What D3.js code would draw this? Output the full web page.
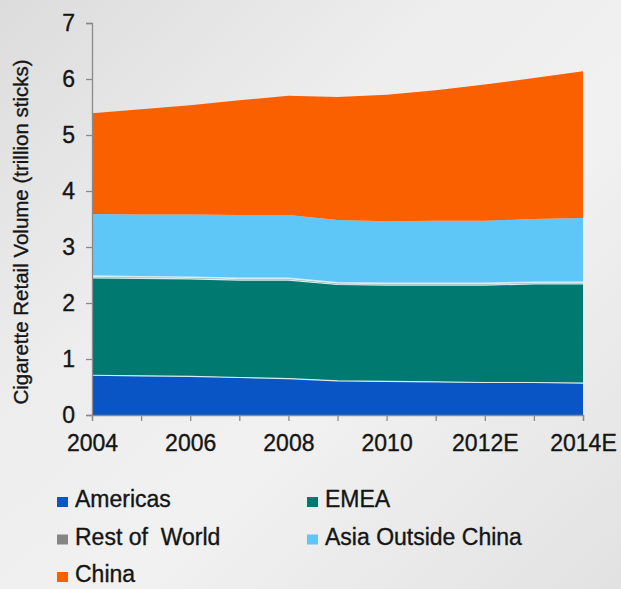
<!DOCTYPE html>
<html>
<head>
<meta charset="utf-8">
<script src="https://cdn.jsdelivr.net/npm/d3@7"></script>
<style>
  html, body { margin: 0; padding: 0; }
  body { width: 621px; height: 589px; overflow: hidden; }
  text { font-family: "Liberation Sans", Arial, sans-serif; fill: #151515; stroke: #151515; stroke-width: 0.35px; }
</style>
</head>
<body>
<svg id="chart" width="621" height="589"></svg>
<script>
// Years along the x axis (E = estimate)
const years = [2004, 2005, 2006, 2007, 2008, 2009, 2010, 2011, 2012, 2013, 2014];
const yearLabels = ["2004", "2006", "2008", "2010", "2012E", "2014E"];
const labelYears = [2004, 2006, 2008, 2010, 2012, 2014];

// Regional cigarette retail volume, trillion sticks
const americas = [0.71, 0.70, 0.69, 0.67, 0.65, 0.61, 0.60, 0.59, 0.58, 0.58, 0.57];
const emea     = [1.74, 1.74, 1.74, 1.74, 1.76, 1.72, 1.72, 1.73, 1.74, 1.76, 1.77];
const restOfWorld = [0.03, 0.03, 0.03, 0.03, 0.03, 0.03, 0.03, 0.03, 0.03, 0.03, 0.03];
const asiaOutsideChina = [1.11, 1.11, 1.12, 1.13, 1.13, 1.12, 1.11, 1.12, 1.12, 1.13, 1.15];
const china    = [1.80, 1.88, 1.95, 2.05, 2.13, 2.20, 2.26, 2.33, 2.43, 2.52, 2.62];

const seriesNames = ["Americas", "EMEA", "Rest of  World", "Asia Outside China", "China"];
const seriesColors = ["#0a55c6", "#007a70", "#858585", "#5ec7f8", "#fa6000"];
const yTicks = [0, 1, 2, 3, 4, 5, 6, 7];

const seriesValues = [americas, emea, restOfWorld, asiaOutsideChina, china];
const rows = years.map((yr, i) => {
  const r = { year: yr };
  seriesNames.forEach((n, k) => { r[n] = seriesValues[k][i]; });
  return r;
});

const svg = d3.select("#chart");

// Soft grey backdrop
const defs = svg.append("defs");
const grad = defs.append("linearGradient")
  .attr("id", "bg").attr("x1", "0").attr("y1", "0").attr("x2", "1").attr("y2", "1");
grad.append("stop").attr("offset", "0").attr("stop-color", "#dcdcdc");
grad.append("stop").attr("offset", "0.35").attr("stop-color", "#ededed");
grad.append("stop").attr("offset", "0.6").attr("stop-color", "#f1f1f1");
grad.append("stop").attr("offset", "1").attr("stop-color", "#e2e2e2");
svg.append("rect").attr("width", 621).attr("height", 589).attr("fill", "url(#bg)");

const margin = { left: 92, top: 23, right: 38, bottom: 174 };
const width = 621 - margin.left - margin.right;
const height = 589 - margin.top - margin.bottom;

const g = svg.append("g").attr("transform", `translate(${margin.left},${margin.top})`);

const x = d3.scaleLinear().domain([2004, 2014]).range([0, width]);
const y = d3.scaleLinear().domain([0, 7]).range([height, 0]);

const stack = d3.stack().keys(seriesNames);
const layers = stack(rows);

const area = d3.area()
  .x(d => x(d.data.year))
  .y0(d => y(d[0]))
  .y1(d => y(d[1]));

g.selectAll("path.layer")
  .data(layers)
  .join("path")
  .attr("class", "layer")
  .attr("d", area)
  .attr("fill", (d, i) => seriesColors[i]);

// Light seams along the layer tops
const seam = d3.line().x(d => x(d.data.year)).y(d => y(d[1]));
g.selectAll("path.seam")
  .data(layers.slice(0, 3))
  .join("path")
  .attr("class", "seam")
  .attr("d", seam)
  .attr("fill", "none")
  .attr("stroke", "#d6eef2")
  .attr("stroke-width", (d, i) => i === 2 ? 1.6 : 1.2);

// Axes
const axisColor = "#8a8a8a";
const yAxis = g.append("g")
  .call(d3.axisLeft(y).tickValues(yTicks).tickSize(6).tickPadding(11).tickFormat(d3.format("d")));
const xAxis = g.append("g")
  .attr("transform", `translate(0,${height})`)
  .call(d3.axisBottom(x).tickValues(years).tickSize(6).tickPadding(14)
    .tickFormat(d => { const k = labelYears.indexOf(d); return k >= 0 ? yearLabels[k] : ""; }));

[yAxis, xAxis].forEach(a => {
  a.select(".domain").attr("stroke", axisColor).attr("stroke-width", 1.3);
  a.selectAll(".tick line").attr("stroke", axisColor).attr("stroke-width", 1.3);
  a.selectAll(".tick text").style("font-size", "23px").attr("fill", "#151515")
    .style("font-family", "'Liberation Sans', Arial, sans-serif");
});

// Y axis title
svg.append("text")
  .attr("transform", `translate(28,232) rotate(-90)`)
  .attr("text-anchor", "middle")
  .style("font-size", "20.5px")
  .text("Cigarette Retail Volume (trillion sticks)");

// Legend, two columns
const legendItems = seriesNames.map((n, i) => ({
  name: n, color: seriesColors[i],
  col: i % 2, row: Math.floor(i / 2)
}));
const legend = svg.append("g");
const li = legend.selectAll("g")
  .data(legendItems)
  .join("g")
  .attr("transform", d => `translate(${57 + d.col * 250},${507 + d.row * 37.5})`);
li.append("rect")
  .attr("x", 0).attr("y", -10).attr("width", 11).attr("height", 10)
  .attr("fill", d => d.color);
li.append("text")
  .attr("x", 18).attr("y", 0)
  .style("font-size", "23px")
  .style("white-space", "pre")
  .attr("xml:space", "preserve")
  .text(d => d.name);
</script>
</body>
</html>
